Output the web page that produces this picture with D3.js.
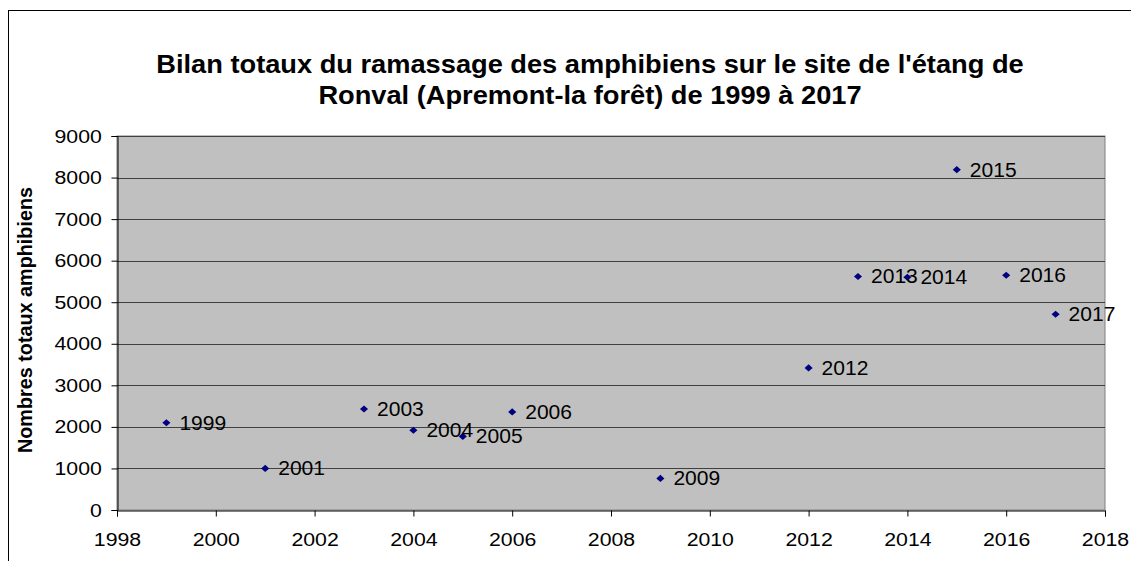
<!DOCTYPE html>
<html>
<head>
<meta charset="utf-8">
<script src="https://cdn.jsdelivr.net/npm/d3@7"></script>
<style>
    body { margin: 0; background: #fff; }
    svg { font-family: "Liberation Sans", Arial, sans-serif; }
</style>
</head>
<body>
<svg id="chart" width="1131" height="561"></svg>
<script>
const years = [1999, 2001, 2003, 2004, 2005, 2006, 2009, 2012, 2013, 2014, 2015, 2016, 2017];
const totals = [2100, 1000, 2430, 1920, 1770, 2360, 760, 3420, 5620, 5600, 8190, 5650, 4710];
const xTicks = [1998, 2000, 2002, 2004, 2006, 2008, 2010, 2012, 2014, 2016, 2018];
const yTicks = [0, 1000, 2000, 3000, 4000, 5000, 6000, 7000, 8000, 9000];
const titleLines = [
    "Bilan totaux du ramassage des amphibiens sur le site de l'étang de",
    "Ronval (Apremont-la forêt) de 1999 à 2017"
];
const yTitle = 'Nombres totaux amphibiens';

const plotLeft = 117, plotRight = 1105, plotTop = 136, plotBottom = 510;
// the source picture is a little wider than tall, text is stretched to match
const stretch = 1.12;

const chart = d3.select('#chart');

// outer chart frame
chart.append('rect')
    .attr('x', 8.5).attr('y', 10.5)
    .attr('width', 1140).attr('height', 600)
    .style('fill', 'none')
    .style('stroke', '#000')
    .style('stroke-width', 1);

const x = d3.scaleLinear().domain([1998, 2018]).range([plotLeft, plotRight]);
const y = d3.scaleLinear().domain([0, 9000]).range([plotBottom, plotTop]);

chart.append('rect')
    .attr('x', plotLeft).attr('y', plotTop)
    .attr('width', plotRight - plotLeft).attr('height', plotBottom - plotTop)
    .style('fill', '#c0c0c0')
    .style('stroke', '#808080');

chart.append('g')
    .selectAll('line')
    .data(yTicks.filter(d => d > 0))
    .enter().append('line')
    .attr('x1', plotLeft).attr('x2', plotRight)
    .attr('y1', d => Math.round(y(d)) + 0.5)
    .attr('y2', d => Math.round(y(d)) + 0.5)
    .style('stroke', '#404040')
    .style('stroke-width', 1);

const yAxis = chart.append('g')
    .attr('transform', `translate(${plotLeft + 0.5},0)`)
    .call(d3.axisLeft(y).tickValues(yTicks).tickSize(6).tickPadding(8).tickFormat(d3.format('d')));
const xAxis = chart.append('g')
    .attr('transform', `translate(0,${plotBottom + 0.5})`)
    .call(d3.axisBottom(x).tickValues(xTicks).tickSize(6).tickPadding(16).tickFormat(d3.format('d')));
[yAxis, xAxis].forEach(a => {
    a.selectAll('text')
        .attr('transform', `scale(${stretch},1)`)
        .style('font-size', '19px')
        .style('font-family', '"Liberation Sans", Arial, sans-serif')
        .style('fill', '#000');
    a.selectAll('line, path').style('stroke', '#000');
});

chart.selectAll('.title')
    .data(titleLines)
    .enter().append('text')
    .classed('title', true)
    .attr('transform', (_, i) => `translate(590,${73 + i * 31}) scale(1.09,1)`)
    .attr('text-anchor', 'middle')
    .style('font-size', '25px')
    .style('font-weight', 'bold')
    .text(_ => _);

chart.append('text')
    .attr('transform', `translate(32,320) rotate(-90)`)
    .attr('text-anchor', 'middle')
    .style('font-size', '19.8px')
    .style('font-weight', 'bold')
    .text(yTitle);

const points = years.map((yr, i) => ({ year: yr, total: totals[i] }));

chart.append('g')
    .selectAll('path')
    .data(points)
    .enter().append('path')
    .attr('d', d3.symbol(d3.symbolDiamond2, 42))
    .attr('transform', d => `translate(${x(d.year)},${y(d.total)}) scale(1,0.88)`)
    .style('fill', '#000080');

chart.append('g')
    .selectAll('text')
    .data(points)
    .enter().append('text')
    .attr('transform', d => `translate(${x(d.year) + 13},${y(d.total) + 7}) scale(1.08,1)`)
    .style('font-size', '19.5px')
    .text(d => d.year);
</script>
</body>
</html>
